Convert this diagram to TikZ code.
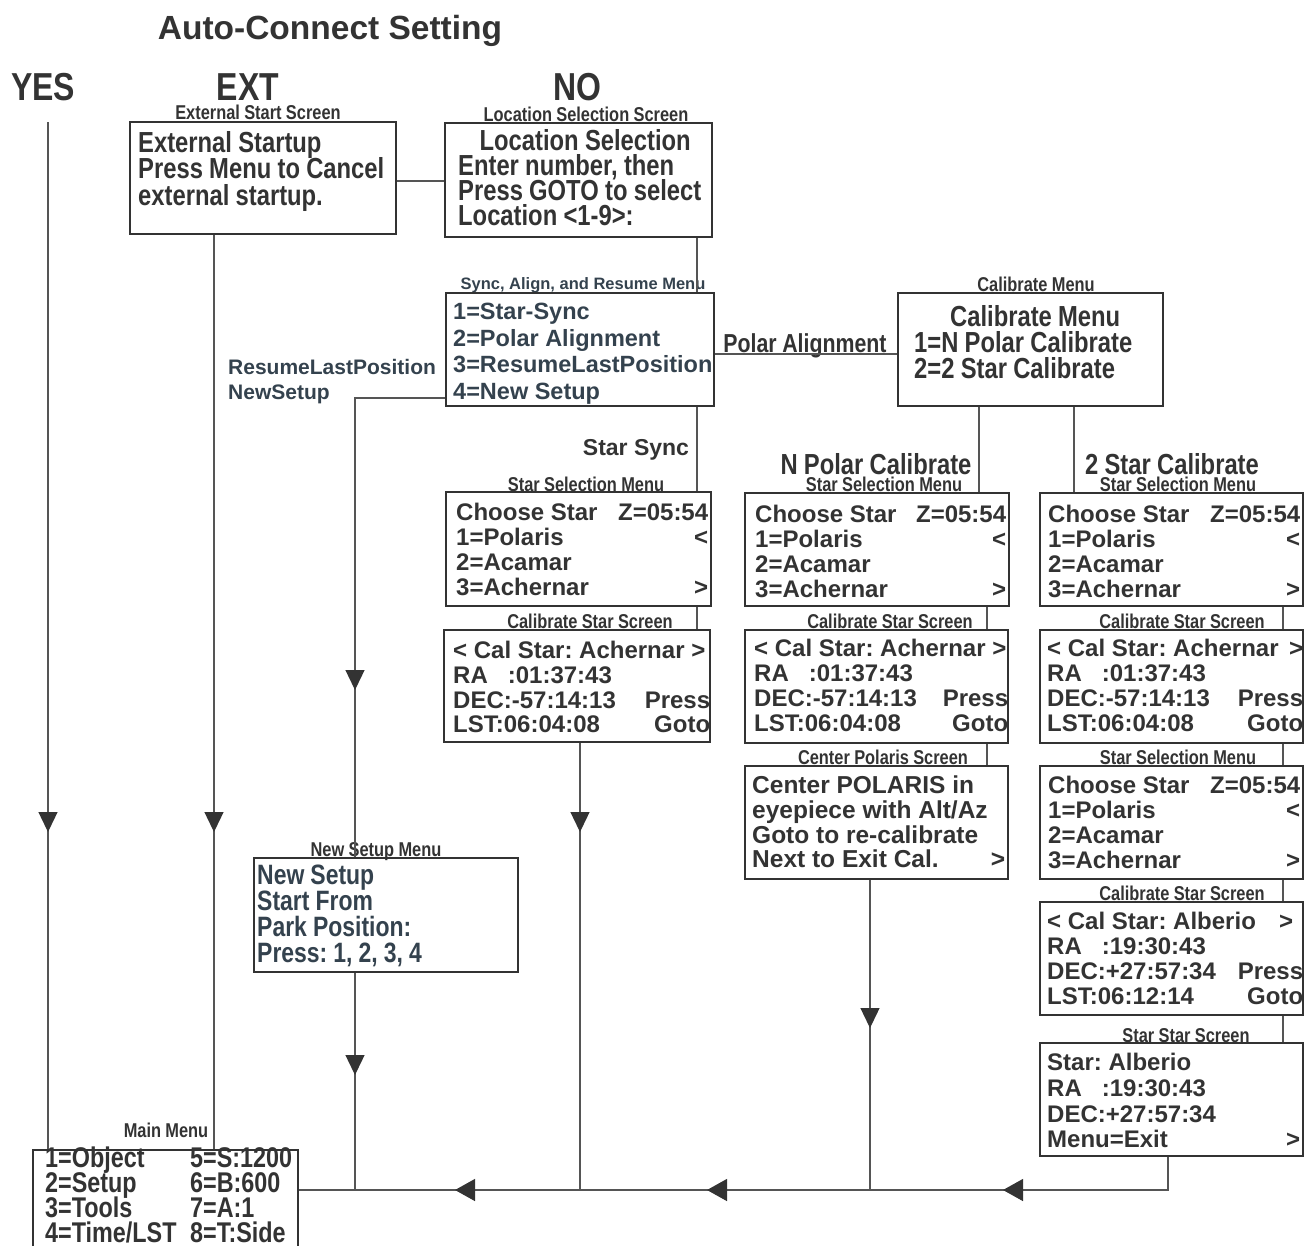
\documentclass[tikz,border=0pt]{standalone}
\usepackage{fontspec}
\usetikzlibrary{arrows.meta,decorations.markings}
\newfontfamily\fwb{Liberation Sans Bold}
\newfontfamily\fnb[FakeStretch=0.82,WordSpace=0.95]{Liberation Sans Bold}
\newcommand\fsz[2]{\fontsize{#1}{#2}\selectfont}
\newcommand\rowl[1]{\hbox to\hsize{#1\hss}}
\newcommand\rowc[1]{\hbox to\hsize{\hss#1\hss}}
\newcommand\blk[2]{\vtop{\hsize=#1\relax #2}}
\lineskiplimit=-100pt
\frenchspacing
\definecolor{linec}{HTML}{555555}
\definecolor{boxc}{HTML}{333333}
\definecolor{txtc}{HTML}{333333}
\definecolor{bluc}{HTML}{34424E}
\definecolor{arrowc}{HTML}{333333}
\tikzset{
  box/.style={draw=boxc, line width=2pt, rectangle, inner sep=0pt},
  tx/.style={anchor=base west, inner sep=0pt, text=txtc},
  lbl/.style={anchor=base, inner sep=0pt, text=txtc},
  sl/.style={lbl, font=\fnb\fsz{20}{22}},
  conn/.style={draw=linec, line width=1.3pt},
  tip/.style={postaction={decorate,decoration={markings,
    mark=at position #1 with {\arrow[color=arrowc]{Triangle[length=20pt,width=19pt]}}}}},
  bustips/.style={postaction={decorate,decoration={markings,
    mark=at position 198pt with {\arrow[color=arrowc]{Triangle[length=20pt,width=22pt]}},
    mark=at position 494pt with {\arrow[color=arrowc]{Triangle[length=20pt,width=22pt]}},
    mark=at position 746pt with {\arrow[color=arrowc]{Triangle[length=20pt,width=22pt]}}}}}
}
\begin{document}
\begin{tikzpicture}[x=1pt,y=-1pt]
\useasboundingbox (0,0) rectangle (1314,1245);
\clip (0,0) rectangle (1314,1245);

% headings
\node[lbl, font=\fwb\fsz{33.5}{36}] (title) at (330,39) {Auto-Connect Setting};
\node[lbl, font=\fnb\fsz{39}{40}] (yes) at (43,100) {YES};
\node[lbl, font=\fnb\fsz{39}{40}] (exth) at (248,100) {EXT};
\node[lbl, font=\fnb\fsz{39}{40}] (noh) at (577,100) {NO};

% small screen labels
\node[sl] (l-ext) at (258,119.2) {External Start Screen};
\node[sl] (l-loc) at (586,121.2) {Location Selection Screen};
\node[lbl, font=\fwb\fsz{16.5}{18}, text=bluc] (l-sync) at (583,289.9) {Sync, Align, and Resume Menu};
\node[sl] (l-cal) at (1036,291.2) {Calibrate Menu};
\node[sl] (l-ss1) at (586,491.2) {Star Selection Menu};
\node[sl] (l-ss2) at (884,491.2) {Star Selection Menu};
\node[sl] (l-ss3) at (1178,491.2) {Star Selection Menu};
\node[sl] (l-ss3b) at (1178,764.2) {Star Selection Menu};
\node[sl] (l-cs1) at (590,628.2) {Calibrate Star Screen};
\node[sl] (l-cs2) at (890,628.2) {Calibrate Star Screen};
\node[sl] (l-cs3) at (1182,628.2) {Calibrate Star Screen};
\node[sl] (l-cs3b) at (1182,900.2) {Calibrate Star Screen};
\node[sl] (l-cp) at (883,764.2) {Center Polaris Screen};
\node[sl] (l-st) at (1186,1042.2) {Star Star Screen};
\node[sl] (l-ns) at (376,856.2) {New Setup Menu};
\node[sl] (l-main) at (166,1137.2) {Main Menu};

% path labels
\node[tx, text=bluc, font=\fwb\fsz{21}{25}] (l-resume) at (228,374.5)
  {\blk{212pt}{\rowl{ResumeLastPosition}\rowl{NewSetup}}};
\node[lbl, font=\fnb\fsz{26}{28}] (l-polar) at (805,352.3) {Polar Alignment};
\node[lbl, font=\fwb\fsz{23}{25}] (l-sync2) at (636,455.2) {Star Sync};
\node[lbl, font=\fnb\fsz{29}{30}] (l-npc) at (876,474) {N Polar Calibrate};
\node[lbl, font=\fnb\fsz{29}{30}] (l-2sc) at (1172,474) {2 Star Calibrate};

% boxes
\node[box, minimum width=266pt, minimum height=112pt] (ext) at (263,178) {};
\node[box, minimum width=267pt, minimum height=114pt] (loc) at (578.5,180) {};
\node[box, minimum width=268pt, minimum height=113pt] (sync) at (580,349.5) {};
\node[box, minimum width=265pt, minimum height=113pt] (cal) at (1030.5,349.5) {};
\node[box, minimum width=265pt, minimum height=114pt] (ss1) at (578.5,549) {};
\node[box, minimum width=266pt, minimum height=112pt] (cs1) at (577,686) {};
\node[box, minimum width=264pt, minimum height=113pt] (ss2) at (877,549.5) {};
\node[box, minimum width=263pt, minimum height=113pt] (cs2) at (876.5,686.5) {};
\node[box, minimum width=263pt, minimum height=113pt] (cp) at (876.5,822.5) {};
\node[box, minimum width=263pt, minimum height=113pt] (ss3) at (1171.5,549.5) {};
\node[box, minimum width=263pt, minimum height=113pt] (cs3) at (1171.5,686.5) {};
\node[box, minimum width=263pt, minimum height=113pt] (ss3b) at (1171.5,822.5) {};
\node[box, minimum width=263pt, minimum height=113pt] (cs3b) at (1171.5,958.5) {};
\node[box, minimum width=263pt, minimum height=113pt] (st) at (1171.5,1099.5) {};
\node[box, minimum width=264pt, minimum height=114pt] (ns) at (386,915) {};
\node[box, minimum width=265pt, minimum height=110pt] (main) at (165.5,1205) {};

% box texts
\node[tx, font=\fnb\fsz{29}{26.5}] (ext-t) at (138,152.4)
  {\blk{256pt}{\rowl{External Startup}\rowl{Press Menu to Cancel}\rowl{external startup.}}};
\node[tx, font=\fnb\fsz{29}{25}] (loc-t) at (458,150.4)
  {\blk{254pt}{\rowc{Location Selection}\rowl{Enter number, then}\rowl{Press GOTO to select}\rowl{Location <1-9>:}}};
\node[tx, text=bluc, font=\fwb\fsz{23.5}{26.7}] (sync-t) at (453,319.4)
  {\blk{262pt}{\rowl{1=Star-Sync}\rowl{2=Polar Alignment}\rowl{3=ResumeLastPosition}\rowl{4=New Setup}}};
\node[tx, font=\fnb\fsz{29}{26}] (cal-t) at (914,326.4)
  {\blk{242pt}{\rowc{Calibrate Menu}\rowl{1=N Polar Calibrate}\rowl{2=2 Star Calibrate}}};

\node[tx, font=\fwb\fsz{24}{25}] (ss1-t) at (456,520.6)
  {\blk{252pt}{\rowl{Choose Star\hfill Z=05:54}\rowl{1=Polaris\hfill <}\rowl{2=Acamar}\rowl{3=Achernar\hfill >}}};
\node[tx, font=\fwb\fsz{24}{24.7}] (cs1-t) at (453,658.6)
  {\blk{257pt}{\rowl{< Cal Star: Achernar >}\rowl{RA\hspace{20pt}:01:37:43}\rowl{DEC:-57:14:13\hfill Press}\rowl{LST:06:04:08\hfill Goto}}};

\node[tx, font=\fwb\fsz{24}{25}] (ss2-t) at (755,522.6)
  {\blk{251pt}{\rowl{Choose Star\hfill Z=05:54}\rowl{1=Polaris\hfill <}\rowl{2=Acamar}\rowl{3=Achernar\hfill >}}};
\node[tx, font=\fwb\fsz{24}{25}] (cs2-t) at (754,656.6)
  {\blk{254pt}{\rowl{< Cal Star: Achernar >}\rowl{RA\hspace{20pt}:01:37:43}\rowl{DEC:-57:14:13\hfill Press}\rowl{LST:06:04:08\hfill Goto}}};
\node[tx, font=\fwb\fsz{24.5}{24.7}] (cp-t) at (752,793.8)
  {\blk{253pt}{\rowl{Center POLARIS in}\rowl{eyepiece with Alt/Az}\rowl{Goto to re-calibrate}\rowl{Next to Exit Cal.\hfill >}}};

\node[tx, font=\fwb\fsz{24}{25}] (ss3-t) at (1048,522.6)
  {\blk{252pt}{\rowl{Choose Star\hfill Z=05:54}\rowl{1=Polaris\hfill <}\rowl{2=Acamar}\rowl{3=Achernar\hfill >}}};
\node[tx, font=\fwb\fsz{24}{25}] (cs3-t) at (1047,656.6)
  {\blk{256pt}{\rowl{< Cal Star: Achernar\hfill >}\rowl{RA\hspace{20pt}:01:37:43}\rowl{DEC:-57:14:13\hfill Press}\rowl{LST:06:04:08\hfill Goto}}};
\node[tx, font=\fwb\fsz{24}{25}] (ss3b-t) at (1048,793.6)
  {\blk{252pt}{\rowl{Choose Star\hfill Z=05:54}\rowl{1=Polaris\hfill <}\rowl{2=Acamar}\rowl{3=Achernar\hfill >}}};
\node[tx, font=\fwb\fsz{24}{25}] (cs3b-t) at (1047,929.6)
  {\blk{256pt}{\rowl{< Cal Star: Alberio\hfill >\hspace{10pt}}\rowl{RA\hspace{20pt}:19:30:43}\rowl{DEC:+27:57:34\hfill Press}\rowl{LST:06:12:14\hfill Goto}}};
\node[tx, font=\fwb\fsz{24}{25.7}] (st-t) at (1047,1070.6)
  {\blk{253pt}{\rowl{Star: Alberio}\rowl{RA\hspace{20pt}:19:30:43}\rowl{DEC:+27:57:34}\rowl{Menu=Exit\hfill >}}};

\node[tx, text=bluc, font=\fnb\fsz{28}{26.3}] (ns-t) at (257,884)
  {\blk{250pt}{\rowl{New Setup}\rowl{Start From}\rowl{Park Position:}\rowl{Press: 1, 2, 3, 4}}};
\node[tx, font=\fnb\fsz{28.5}{25}] (main-t) at (45,1167)
  {\blk{250pt}{\rowl{\makebox[145pt][l]{1=Object}5=S:1200}\rowl{\makebox[145pt][l]{2=Setup}6=B:600}\rowl{\makebox[145pt][l]{3=Tools}7=A:1}\rowl{\makebox[145pt][l]{4=Time/LST}8=T:Side}}};

% helper coordinates
\coordinate (cA) at (697,0);
\coordinate (cB) at (580,0);
\coordinate (cC) at (979,0);
\coordinate (cD) at (1074,0);
\coordinate (cE) at (987,0);
\coordinate (cF) at (870,0);
\coordinate (cG) at (1283,0);
\coordinate (cH) at (1168,0);
\coordinate (cI) at (48,0);
\coordinate (cJ) at (214,0);
\coordinate (cK) at (355,0);
\coordinate (bus) at (0,1190);
\coordinate (y398) at (0,398);
\coordinate (y181) at (0,181);
\coordinate (y354) at (0,354);
\coordinate (yestop) at (48,122);

% connectors
\draw[conn] (ext.east |- y181) -- (loc.west |- y181);
\draw[conn] (cA |- loc.south) -- (cA |- sync.north);
\draw[conn] (sync.east |- y354) -- (cal.west |- y354);
\draw[conn] (cA |- sync.south) -- (cA |- ss1.north);
\draw[conn] (cA |- ss1.south) -- (cA |- cs1.north);
\draw[conn, tip=89pt] (cB |- cs1.south) -- (cB |- bus);
\draw[conn] (cC |- cal.south) -- (cC |- ss2.north);
\draw[conn] (cD |- cal.south) -- (cD |- ss3.north);
\draw[conn] (cE |- ss2.south) -- (cE |- cs2.north);
\draw[conn] (cE |- cs2.south) -- (cE |- cp.north);
\draw[conn, tip=148pt] (cF |- cp.south) -- (cF |- bus);
\draw[conn] (cG |- ss3.south) -- (cG |- cs3.north);
\draw[conn] (cG |- cs3.south) -- (cG |- ss3b.north);
\draw[conn] (cG |- ss3b.south) -- (cG |- cs3b.north);
\draw[conn] (cG |- cs3b.south) -- (cG |- st.north);
\draw[conn, bustips] (cH |- st.south) -- (cH |- bus) -- (main.east |- bus);
\draw[conn, tip=710pt] (yestop) -- (cI |- main.north);
\draw[conn, tip=597pt] (cJ |- ext.south) -- (cJ |- main.north);
\draw[conn, tip=382pt] (sync.west |- y398) -| (cK |- ns.north);
\draw[conn, tip=102pt] (cK |- ns.south) -- (cK |- bus);
\end{tikzpicture}
\end{document}
